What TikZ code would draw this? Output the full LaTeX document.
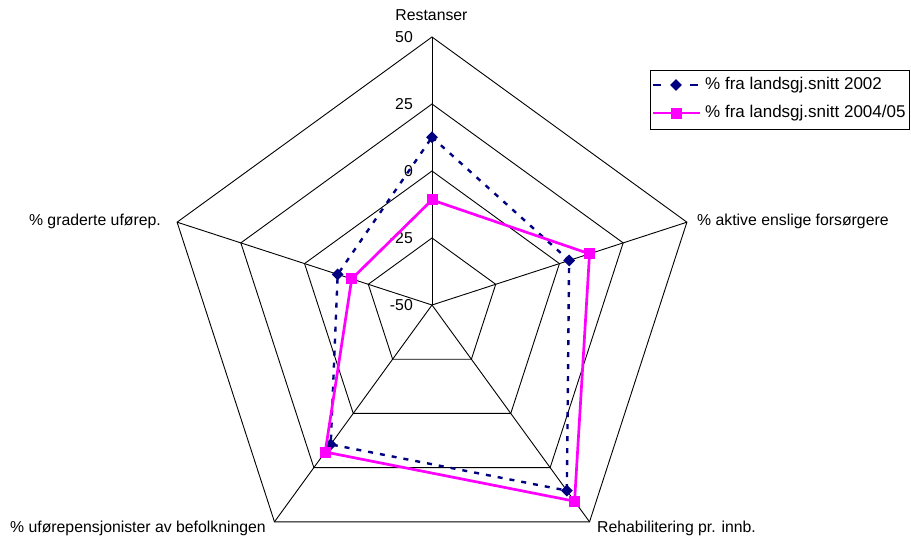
\documentclass[tikz,border=0pt]{standalone}
\usepackage{fontspec}
\setmainfont{Liberation Sans}
\usetikzlibrary{calc,shapes.geometric}
\definecolor{navyser}{RGB}{0,0,128}
\definecolor{magser}{RGB}{255,0,255}
\begin{document}
\begin{tikzpicture}[x=1pt,y=1pt,
  gridline/.style={black, line width=0.9pt, line join=miter},
  seriesA/.style={navyser, line width=2.4pt, dash pattern=on 5pt off 7pt},
  seriesB/.style={magser, line width=2.7pt, line join=miter},
  diamondmark/.style={fill=navyser, draw=none, shape=diamond, minimum size=12pt, inner sep=0pt},
  squaremark/.style={fill=magser, draw=none, rectangle, minimum size=11pt, inner sep=0pt},
  axislabel/.style={font=\fontsize{15.8}{18}\selectfont, inner sep=0pt},
  ticklabel/.style={font=\fontsize{15.8}{18}\selectfont, anchor=east, inner sep=0pt},
  legtext/.style={font=\fontsize{17}{19}\selectfont, anchor=west, inner sep=0pt},
]
\useasboundingbox (0,-542) rectangle (911,0);
\coordinate (c) at (432,-305);
% spokes and rings
\foreach \a [count=\i] in {90,18,-54,-126,162} {
  \coordinate (o\i) at ($(c)+(\a:268)$);
  \draw[gridline] (c) -- (o\i);
}
\foreach \r in {67,134,201,268} {
  \draw[gridline] ($(c)+(90:\r)$) -- ($(c)+(18:\r)$) -- ($(c)+(-54:\r)$) -- ($(c)+(-126:\r)$) -- ($(c)+(162:\r)$) -- cycle;
}
% tick labels
\node[ticklabel] (t50) at (413,-37) {50};
\node[ticklabel] (t25) at (413,-104) {25};
\node[ticklabel] (t0) at (413,-171) {0};
\node[ticklabel] (tm25) at (413,-238) {-25};
\node[ticklabel] (tm50) at (413,-305) {-50};
% axis labels
\node[axislabel] (l1) at (431.5,-15) {Restanser};
\node[axislabel, anchor=west] (l2) at (697,-221) {\% aktive enslige forsørgere};
\node[axislabel, anchor=west] (l3) at (597,-528) {Rehabilitering pr. innb.};
\node[axislabel, anchor=west] (l4) at (10,-528) {\% uførepensjonister av befolkningen};
\node[axislabel, anchor=east] (l5) at (161,-221) {\% graderte uførep.};
% series 1
\foreach \a/\v [count=\i] in {90/12.6,18/3.8,-54/35.6,-126/14.3,162/-13} {
  \coordinate (a\i) at ($(c)+(\a:{(\v+50)*2.68})$);
}
\draw[seriesA] (a1) -- (a2) -- (a3) -- (a4) -- (a5) -- cycle;
\foreach \i in {1,...,5} { \node[diamondmark] (da\i) at (a\i) {}; }
% series 2
\foreach \a/\v [count=\i] in {90/-10.8,18/11.8,-54/40.5,-126/17.8,162/-18.5} {
  \coordinate (b\i) at ($(c)+(\a:{(\v+50)*2.68})$);
}
\draw[seriesB] (b1) -- (b2) -- (b3) -- (b4) -- (b5) -- cycle;
\foreach \i in {1,...,5} { \node[squaremark] (sb\i) at (b\i) {}; }
% legend
\node[draw=black, line width=0.9pt, rectangle, minimum width=259pt, minimum height=59pt, anchor=north west, inner sep=0pt] (leg) at (650,-70) {};
\coordinate (la1) at (653,-85);
\coordinate (la2) at (661,-85);
\coordinate (la3) at (690,-85);
\coordinate (la4) at (698,-85);
\draw[navyser, line width=2.4pt] (la1) -- (la2);
\draw[navyser, line width=2.4pt] (la3) -- (la4);
\node[diamondmark] (lda) at (676,-85) {};
\node[legtext] (lt1) at (705,-85) {\% fra landsgj.snitt 2002};
\coordinate (lb1) at (653,-113);
\coordinate (lb2) at (700,-113);
\draw[seriesB] (lb1) -- (lb2);
\node[squaremark] (lsb) at (676,-113) {};
\node[legtext] (lt2) at (705,-113) {\% fra landsgj.snitt 2004/05};
\end{tikzpicture}
\end{document}
